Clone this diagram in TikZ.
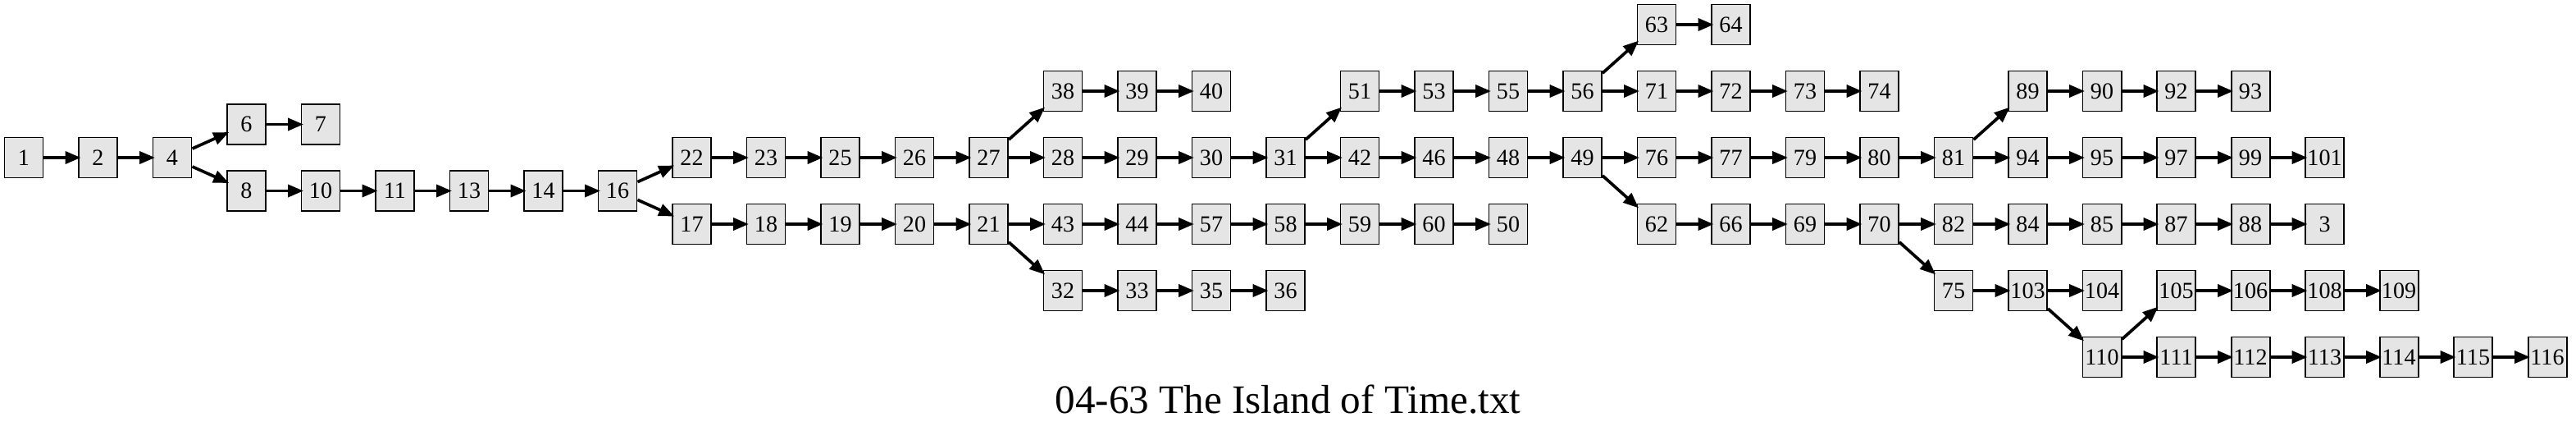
\documentclass[tikz,border=0pt]{standalone}
\usepackage{fontspec}
\setmainfont{Liberation Serif}
\usetikzlibrary{positioning,arrows.meta}
\definecolor{boxfill}{HTML}{E5E5E5}
\tikzset{
  >={Triangle[length=0.19cm,width=0.15cm]},
  passage/.style={draw, rectangle, fill=boxfill, line width=0.55pt, minimum width=0.47cm, minimum height=0.49cm, inner sep=0pt, font=\fontsize{8}{9}\selectfont},
}

\begin{document}
\begin{tikzpicture}[->, line width=1.05pt, shorten >=-0.035cm, node distance=0.81cm and 0.905cm, on grid]
    \useasboundingbox (0,0) rectangle (31.41,5.24);
    % start
    \node[passage] (n1) at (0.29,3.32) {1};
    \node[passage] (n2) [right=of n1] {2};
    \node[passage] (n4) [right=of n2] {4};
    \node[passage] (n6) [above right=0.405cm and 0.905cm of n4] {6};
    \node[passage] (n7) [right=of n6] {7};
    \node[passage] (n8) [below right=0.405cm and 0.905cm of n4] {8};
    \node[passage] (n10) [right=of n8] {10};
    \node[passage] (n11) [right=of n10] {11};
    \node[passage] (n13) [right=of n11] {13};
    \node[passage] (n14) [right=of n13] {14};
    \node[passage] (n16) [right=of n14] {16};
    % upper branch
    \node[passage] (n22) [above right=0.405cm and 0.905cm of n16] {22};
    \node[passage] (n23) [right=of n22] {23};
    \node[passage] (n25) [right=of n23] {25};
    \node[passage] (n26) [right=of n25] {26};
    \node[passage] (n27) [right=of n26] {27};
    \node[passage] (n38) [above right=of n27] {38};
    \node[passage] (n39) [right=of n38] {39};
    \node[passage] (n40) [right=of n39] {40};
    \node[passage] (n28) [right=of n27] {28};
    \node[passage] (n29) [right=of n28] {29};
    \node[passage] (n30) [right=of n29] {30};
    \node[passage] (n31) [right=of n30] {31};
    \node[passage] (n51) [above right=of n31] {51};
    \node[passage] (n53) [right=of n51] {53};
    \node[passage] (n55) [right=of n53] {55};
    \node[passage] (n56) [right=of n55] {56};
    \node[passage] (n63) [above right=of n56] {63};
    \node[passage] (n64) [right=of n63] {64};
    \node[passage] (n71) [right=of n56] {71};
    \node[passage] (n72) [right=of n71] {72};
    \node[passage] (n73) [right=of n72] {73};
    \node[passage] (n74) [right=of n73] {74};
    \node[passage] (n42) [right=of n31] {42};
    \node[passage] (n46) [right=of n42] {46};
    \node[passage] (n48) [right=of n46] {48};
    \node[passage] (n49) [right=of n48] {49};
    \node[passage] (n76) [right=of n49] {76};
    \node[passage] (n77) [right=of n76] {77};
    \node[passage] (n79) [right=of n77] {79};
    \node[passage] (n80) [right=of n79] {80};
    \node[passage] (n81) [right=of n80] {81};
    \node[passage] (n89) [above right=of n81] {89};
    \node[passage] (n90) [right=of n89] {90};
    \node[passage] (n92) [right=of n90] {92};
    \node[passage] (n93) [right=of n92] {93};
    \node[passage] (n94) [right=of n81] {94};
    \node[passage] (n95) [right=of n94] {95};
    \node[passage] (n97) [right=of n95] {97};
    \node[passage] (n99) [right=of n97] {99};
    \node[passage] (n101) [right=of n99] {101};
    \node[passage] (n62) [below right=of n49] {62};
    \node[passage] (n66) [right=of n62] {66};
    \node[passage] (n69) [right=of n66] {69};
    \node[passage] (n70) [right=of n69] {70};
    \node[passage] (n82) [right=of n70] {82};
    \node[passage] (n84) [right=of n82] {84};
    \node[passage] (n85) [right=of n84] {85};
    \node[passage] (n87) [right=of n85] {87};
    \node[passage] (n88) [right=of n87] {88};
    \node[passage] (n3) [right=of n88] {3};
    \node[passage] (n75) [below right=of n70] {75};
    \node[passage] (n103) [right=of n75] {103};
    \node[passage] (n104) [right=of n103] {104};
    \node[passage] (n110) [below right=of n103] {110};
    \node[passage] (n105) [above right=of n110] {105};
    \node[passage] (n106) [right=of n105] {106};
    \node[passage] (n108) [right=of n106] {108};
    \node[passage] (n109) [right=of n108] {109};
    \node[passage] (n111) [right=of n110] {111};
    \node[passage] (n112) [right=of n111] {112};
    \node[passage] (n113) [right=of n112] {113};
    \node[passage] (n114) [right=of n113] {114};
    \node[passage] (n115) [right=of n114] {115};
    \node[passage] (n116) [right=of n115] {116};
    % lower branch
    \node[passage] (n17) [below right=0.405cm and 0.905cm of n16] {17};
    \node[passage] (n18) [right=of n17] {18};
    \node[passage] (n19) [right=of n18] {19};
    \node[passage] (n20) [right=of n19] {20};
    \node[passage] (n21) [right=of n20] {21};
    \node[passage] (n43) [right=of n21] {43};
    \node[passage] (n44) [right=of n43] {44};
    \node[passage] (n57) [right=of n44] {57};
    \node[passage] (n58) [right=of n57] {58};
    \node[passage] (n59) [right=of n58] {59};
    \node[passage] (n60) [right=of n59] {60};
    \node[passage] (n50) [right=of n60] {50};
    \node[passage] (n32) [below right=of n21] {32};
    \node[passage] (n33) [right=of n32] {33};
    \node[passage] (n35) [right=of n33] {35};
    \node[passage] (n36) [right=of n35] {36};
    % title
    \node (title) at (15.705,0.21) [anchor=base, font=\fontsize{14}{16}\selectfont] {04-63 The Island of Time.txt};
    \path
      (n1) edge (n2)  (n2) edge (n4)
      (n4) edge (n6)  (n6) edge (n7)
      (n4) edge (n8)  (n8) edge (n10)  (n10) edge (n11)  (n11) edge (n13)
      (n13) edge (n14)  (n14) edge (n16)
      (n16) edge (n22)  (n22) edge (n23)  (n23) edge (n25)  (n25) edge (n26)
      (n26) edge (n27)
      (n27) edge (n38)  (n38) edge (n39)  (n39) edge (n40)
      (n27) edge (n28)  (n28) edge (n29)  (n29) edge (n30)  (n30) edge (n31)
      (n31) edge (n51)  (n51) edge (n53)  (n53) edge (n55)  (n55) edge (n56)
      (n56) edge (n63)  (n63) edge (n64)
      (n56) edge (n71)  (n71) edge (n72)  (n72) edge (n73)  (n73) edge (n74)
      (n31) edge (n42)  (n42) edge (n46)  (n46) edge (n48)  (n48) edge (n49)
      (n49) edge (n76)  (n76) edge (n77)  (n77) edge (n79)  (n79) edge (n80)
      (n80) edge (n81)
      (n81) edge (n89)  (n89) edge (n90)  (n90) edge (n92)  (n92) edge (n93)
      (n81) edge (n94)  (n94) edge (n95)  (n95) edge (n97)  (n97) edge (n99)
      (n99) edge (n101)
      (n49) edge (n62)  (n62) edge (n66)  (n66) edge (n69)  (n69) edge (n70)
      (n70) edge (n82)  (n82) edge (n84)  (n84) edge (n85)  (n85) edge (n87)
      (n87) edge (n88)  (n88) edge (n3)
      (n70) edge (n75)  (n75) edge (n103)  (n103) edge (n104)
      (n103) edge (n110)
      (n110) edge (n105)  (n105) edge (n106)  (n106) edge (n108)  (n108) edge (n109)
      (n110) edge (n111)  (n111) edge (n112)  (n112) edge (n113)  (n113) edge (n114)
      (n114) edge (n115)  (n115) edge (n116)
      (n16) edge (n17)  (n17) edge (n18)  (n18) edge (n19)  (n19) edge (n20)
      (n20) edge (n21)
      (n21) edge (n43)  (n43) edge (n44)  (n44) edge (n57)  (n57) edge (n58)
      (n58) edge (n59)  (n59) edge (n60)  (n60) edge (n50)
      (n21) edge (n32)  (n32) edge (n33)  (n33) edge (n35)  (n35) edge (n36);
\end{tikzpicture}
\end{document}
